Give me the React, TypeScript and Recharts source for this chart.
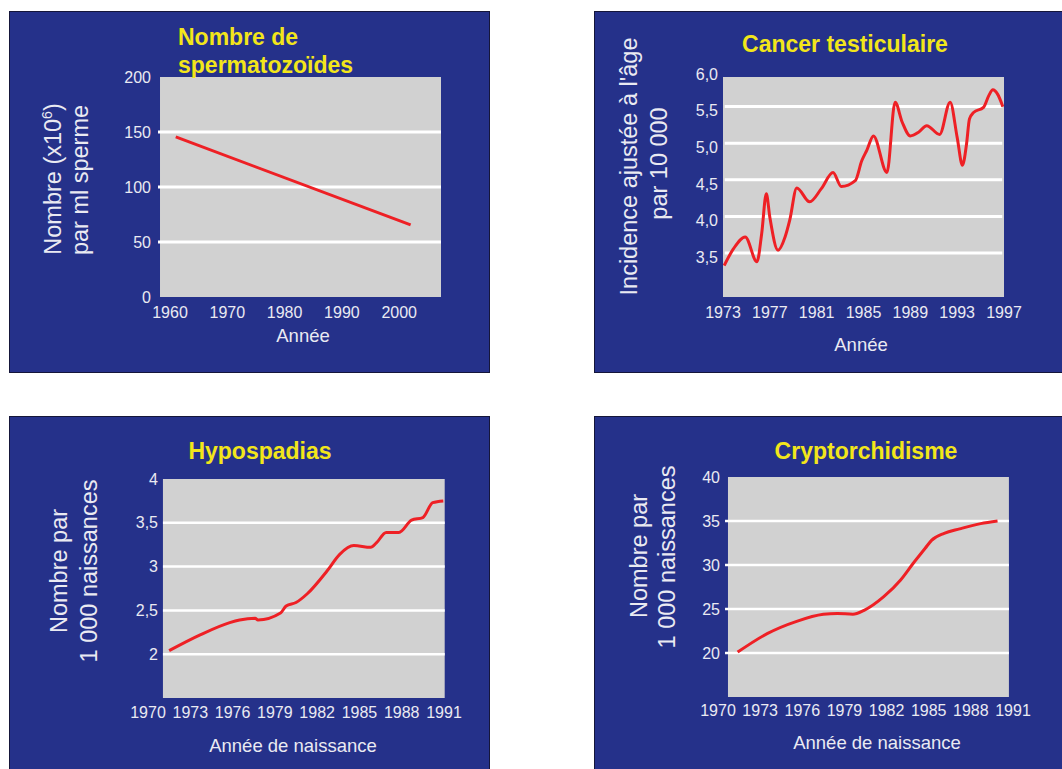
import React from 'react';
import { LineChart, Line, XAxis, YAxis, ReferenceLine, ReferenceArea } from 'recharts';

const FONT = '"Liberation Sans", Arial, Helvetica, sans-serif';
const NAVY = '#25318a';
const GREY = '#d1d1d1';
const RED = '#ee2025';
const YELLOW = '#f2e61a';
const INK = '#eaeaf2';

// Nombre de spermatozoïdes
const spermYears = [1961, 2002];
const spermCounts = [145.5, 65.5];
const spermXTicks = [1960, 1970, 1980, 1990, 2000];
const spermYTicks = [0, 50, 100, 150, 200];
const spermGrid = [50, 100, 150];

// Cancer testiculaire
const cancerYears = [
  1973.1, 1973.9, 1974.9, 1975.9, 1976.3, 1976.7, 1977.0, 1977.7, 1978.3, 1978.7,
  1979.3, 1980.4, 1981.4, 1982.4, 1983.1, 1984.3, 1984.85, 1985.3, 1985.85, 1987.0,
  1987.7, 1988.3, 1989.0, 1989.7, 1990.4, 1991.5, 1992.4, 1993.0, 1993.45, 1993.8,
  1994.05, 1994.4, 1995.25, 1995.7, 1996.05, 1996.45, 1996.9,
];
const cancerRates = [
  3.33, 3.56, 3.72, 3.38, 3.76, 4.31, 3.99, 3.54, 3.72, 3.95,
  4.39, 4.2, 4.38, 4.6, 4.41, 4.49, 4.76, 4.91, 5.1, 4.6,
  5.56, 5.29, 5.1, 5.15, 5.24, 5.12, 5.56, 5.08, 4.7, 4.99,
  5.33, 5.42, 5.49, 5.65, 5.73, 5.67, 5.5,
];
const cancerXTicks = [1973, 1977, 1981, 1985, 1989, 1993, 1997];
const cancerYTicks = [3.5, 4, 4.5, 5, 5.5, 6];
const cancerGrid = [3.5, 4, 4.5, 5, 5.5];

// Hypospadias
const hypoYears = [
  1971.5, 1973.7, 1975.8, 1976.5, 1977.6, 1977.8, 1979.4, 1979.8, 1980.5, 1981.3,
  1982.7, 1983.6, 1984.6, 1985.8, 1986.2, 1986.9, 1987.8, 1988.7, 1989.5, 1990.2, 1990.95,
];
const hypoRates = [
  2.04, 2.22, 2.36, 2.39, 2.41, 2.39, 2.47, 2.55, 2.59, 2.69,
  2.95, 3.14, 3.24, 3.22, 3.27, 3.39, 3.39, 3.53, 3.56, 3.73, 3.75,
];
const birthXTicks = [1970, 1973, 1976, 1979, 1982, 1985, 1988, 1991];
const hypoYTicks = [2, 2.5, 3, 3.5, 4];
const hypoGrid = [2, 2.5, 3, 3.5];

// Cryptorchidisme
const cryptoYears = [
  1971.4, 1973.5, 1975.6, 1977.5, 1978.5, 1979.6, 1980.4, 1981.8, 1983.0, 1983.9,
  1984.75, 1985.2, 1986.1, 1987.2, 1988.7, 1989.9,
];
const cryptoRates = [
  20.1, 22.2, 23.6, 24.4, 24.5, 24.4, 24.85, 26.4, 28.3, 30.2,
  31.9, 32.8, 33.6, 34.1, 34.7, 35.0,
];
const cryptoYTicks = [20, 25, 30, 35, 40];
const cryptoGrid = [20, 25, 30, 35];

const toRows = (xs: number[], ys: number[]) => xs.map((x, i) => ({ x, y: ys[i] }));
const comma = (v: number) => String(v).replace('.', ',');
const comma1 = (v: number) => v.toFixed(1).replace('.', ',');

type Rect = { left: number; top: number; width: number; height: number };

type PanelChartProps = {
  rows: { x: number; y: number }[];
  plot: Rect;
  xDomain: [number, number];
  yDomain: [number, number];
  xTicks: number[];
  yTicks: number[];
  grid: number[];
  greyX: [number, number];
  greyY: [number, number];
  gridX: [number, number];
  gridWidth: number;
  xGap: number;
  yGap: number;
  yShift?: number;
  curve: 'linear' | 'monotone';
  fmt: (v: number) => string;
};

const YW = 60;
const MT = 12;
const MR = 40;
const XH = 40;

function PanelChart(p: PanelChartProps) {
  const tick = { fill: INK, fontSize: 16, fontFamily: FONT };
  const shift = p.yShift ?? 0;
  const yTick = (t: any) => (
    <text
      x={t.x}
      y={t.y + shift}
      dy="0.355em"
      textAnchor="end"
      fill={INK}
      fontSize={16}
      fontFamily={FONT}
    >
      {p.fmt(t.payload.value)}
    </text>
  );
  return (
    <div style={{ position: 'absolute', left: p.plot.left - YW, top: p.plot.top - MT }}>
      <LineChart
        width={YW + p.plot.width + MR}
        height={MT + p.plot.height + XH}
        data={p.rows}
        margin={{ top: MT, right: MR, bottom: 0, left: 0 }}
      >
        <XAxis
          type="number"
          dataKey="x"
          domain={p.xDomain}
          ticks={p.xTicks}
          interval={0}
          allowDataOverflow
          axisLine={false}
          tickLine={false}
          tickSize={0}
          tickMargin={p.xGap}
          height={XH}
          tick={tick}
        />
        <YAxis
          type="number"
          domain={p.yDomain}
          ticks={p.yTicks}
          interval={0}
          allowDataOverflow
          axisLine={false}
          tickLine={false}
          tickSize={0}
          tickMargin={p.yGap}
          width={YW}
          tick={yTick}
        />
        <ReferenceArea
          x1={p.greyX[0]}
          x2={p.greyX[1]}
          y1={p.greyY[0]}
          y2={p.greyY[1]}
          fill={GREY}
          fillOpacity={1}
          stroke="none"
          ifOverflow="visible"
        />
        {p.grid.map((v) => (
          <ReferenceLine
            key={v}
            segment={[
              { x: p.gridX[0], y: v },
              { x: p.gridX[1], y: v },
            ]}
            stroke="#ffffff"
            strokeWidth={p.gridWidth}
            ifOverflow="visible"
          />
        ))}
        <Line
          dataKey="y"
          type={p.curve}
          stroke={RED}
          strokeWidth={3}
          dot={false}
          activeDot={false}
          isAnimationActive={false}
        />
      </LineChart>
    </div>
  );
}

function Panel({ left, top, width, height }: Rect) {
  return (
    <div
      style={{
        position: 'absolute',
        left,
        top,
        width,
        height,
        boxSizing: 'border-box',
        background: NAVY,
        border: '1px solid #15163a',
      }}
    />
  );
}

function VLabel({ x, y, children }: { x: number; y: number; children: React.ReactNode }) {
  return (
    <text
      transform={`translate(${x},${y}) rotate(-90)`}
      textAnchor="middle"
      fill={INK}
      fontSize={23.5}
      fontFamily={FONT}
    >
      {children}
    </text>
  );
}

export default function App() {
  const title = { fill: YELLOW, fontSize: 23, fontWeight: 700, fontFamily: FONT } as const;
  const xTitle = { fill: INK, fontSize: 18.5, fontFamily: FONT, textAnchor: 'middle' } as const;
  return (
    <div
      style={{
        position: 'absolute',
        left: 0,
        top: 0,
        width: 1062,
        height: 769,
        overflow: 'hidden',
        background: '#ffffff',
        fontFamily: FONT,
      }}
    >
      <Panel left={9} top={11} width={481} height={362} />
      <Panel left={594} top={11} width={480} height={362} />
      <Panel left={9} top={416} width={481} height={400} />
      <Panel left={594} top={416} width={480} height={400} />

      <PanelChart
        rows={toRows(spermYears, spermCounts)}
        plot={{ left: 158, top: 77, width: 283, height: 220 }}
        xDomain={[1957.9, 2007.3]}
        yDomain={[0, 200]}
        xTicks={spermXTicks}
        yTicks={spermYTicks}
        grid={spermGrid}
        greyX={[1958.25, 2007.3]}
        greyY={[0, 200]}
        gridX={[1957.9, 2007.3]}
        gridWidth={3}
        xGap={10}
        yGap={7}
        curve="linear"
        fmt={comma}
      />
      <PanelChart
        rows={toRows(cancerYears, cancerRates)}
        plot={{ left: 723, top: 70, width: 281, height: 227 }}
        xDomain={[1973, 1997]}
        yDomain={[2.9, 6.0]}
        xTicks={cancerXTicks}
        yTicks={cancerYTicks}
        grid={cancerGrid}
        greyX={[1973, 1997]}
        greyY={[2.9, 5.905]}
        gridX={[1973.15, 1996.85]}
        gridWidth={3}
        xGap={10}
        yGap={5}
        yShift={4}
        curve="monotone"
        fmt={comma1}
      />
      <PanelChart
        rows={toRows(hypoYears, hypoRates)}
        plot={{ left: 148, top: 479, width: 296, height: 219 }}
        xDomain={[1970, 1991]}
        yDomain={[1.5, 4]}
        xTicks={birthXTicks}
        yTicks={hypoYTicks}
        grid={hypoGrid}
        greyX={[1971.06, 1991.05]}
        greyY={[1.5, 4]}
        gridX={[1971.06, 1991.05]}
        gridWidth={2.5}
        xGap={9}
        yGap={-10}
        curve="monotone"
        fmt={comma}
      />
      <PanelChart
        rows={toRows(cryptoYears, cryptoRates)}
        plot={{ left: 718, top: 477, width: 295, height: 220 }}
        xDomain={[1970, 1991]}
        yDomain={[15, 40]}
        xTicks={birthXTicks}
        yTicks={cryptoYTicks}
        grid={cryptoGrid}
        greyX={[1970.71, 1990.71]}
        greyY={[15, 40]}
        gridX={[1970.5, 1990.71]}
        gridWidth={2.5}
        xGap={8}
        yGap={-2}
        curve="monotone"
        fmt={comma}
      />

      <svg
        width={1062}
        height={769}
        style={{ position: 'absolute', left: 0, top: 0, pointerEvents: 'none' }}
      >
        {/* titres */}
        <text x={178} y={45} {...title}>Nombre de</text>
        <text x={178} y={73} {...title}>spermatozoïdes</text>
        <text x={845} y={52} textAnchor="middle" {...title}>Cancer testiculaire</text>
        <text x={260} y={459} textAnchor="middle" {...title}>Hypospadias</text>
        <text x={866} y={459} textAnchor="middle" {...title}>Cryptorchidisme</text>

        {/* axes verticaux */}
        <VLabel x={61} y={179}>
          Nombre (x10
          <tspan fontSize={14} dy={-9}>6</tspan>
          <tspan dy={9}>)</tspan>
        </VLabel>
        <VLabel x={88} y={180}>par ml sperme</VLabel>
        <VLabel x={637} y={166.5}>Incidence ajustée à l'âge</VLabel>
        <VLabel x={667} y={163.5}>par 10 000</VLabel>
        <VLabel x={67} y={571}>Nombre par</VLabel>
        <VLabel x={97} y={571}>1 000 naissances</VLabel>
        <VLabel x={647} y={556}>Nombre par</VLabel>
        <VLabel x={675} y={557}>1 000 naissances</VLabel>

        {/* axes horizontaux */}
        <text x={303} y={342} {...xTitle}>Année</text>
        <text x={861} y={351} {...xTitle}>Année</text>
        <text x={293} y={752} {...xTitle}>Année de naissance</text>
        <text x={877} y={749} {...xTitle}>Année de naissance</text>
      </svg>
    </div>
  );
}
